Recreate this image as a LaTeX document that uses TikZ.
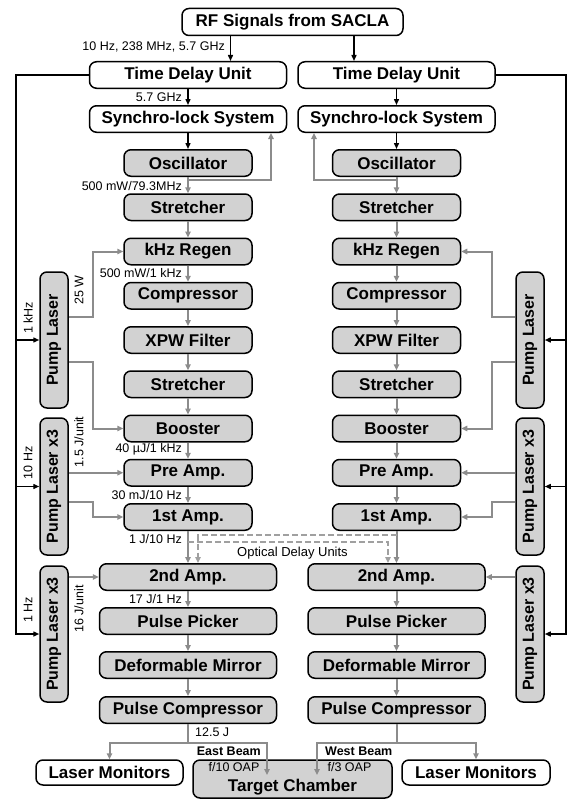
\documentclass[tikz,border=0pt]{standalone}
\usepackage{fontspec}
\setmainfont{Liberation Sans}
\usetikzlibrary{arrows.meta}

\definecolor{boxgray}{HTML}{D2D2D2}
\definecolor{beamgray}{HTML}{8C8C8C}
\definecolor{delaygray}{HTML}{A0A0A0}
\newcommand\bxfont{\fontsize{17}{19}\selectfont\bfseries}
\newcommand\pmpfont{\fontsize{16}{18}\selectfont\bfseries}
\newcommand\lblfont{\fontsize{12.5}{14}\selectfont}

\tikzset{
  ctrl/.style={draw,line width=1.5pt,rounded corners=7pt,fill=white,inner sep=0pt,
    minimum height=26.5pt,font=\bxfont},
  laser/.style={ctrl,fill=boxgray,minimum width=128pt},
  wide/.style={laser,minimum width=177pt},
  pumpbox/.style={laser,minimum width=28pt,minimum height=136pt,font=\pmpfont},
  sig/.style={line width=1.4pt,-{Triangle[length=6pt,width=5pt]}},
  beam/.style={draw=beamgray,line width=2pt,-{Triangle[length=6pt,width=5.5pt]}},
  delay/.style={beam,draw=delaygray,line width=1.5pt,dash pattern=on 6pt off 3pt},
  lbl/.style={font=\lblfont,inner sep=1pt},
}

\begin{document}
\begin{tikzpicture}[x=1pt,y=-1pt]
\path[use as bounding box] (0,0) rectangle (567,800);
\node[ctrl,minimum width=221pt,minimum height=27pt] (rf) at (292.5,22) {RF Signals from SACLA};

% two identical beam lines, mirrored
\foreach \s/\x/\px/\bx/\fb/\fx/\pa/\ca/\rd in
  {L/188/54/93/271/16/east/west/42.5, R/396.5/530/492/314/566/west/east/-42.5}{
  \node[ctrl,minimum width=197pt] (td\s) at (\x,75) {Time Delay Unit};
  \node[ctrl,minimum width=197pt] (syn\s) at (\x,119) {Synchro-lock System};
  \node[laser] (osc\s) at (\x,163) {Oscillator};
  \node[laser] (strA\s) at (\x,207.25) {Stretcher};
  \node[laser] (regen\s) at (\x,251.5) {kHz Regen};
  \node[laser] (comp\s) at (\x,295.75) {Compressor};
  \node[laser] (xpw\s) at (\x,340) {XPW Filter};
  \node[laser] (strB\s) at (\x,384.25) {Stretcher};
  \node[laser] (boost\s) at (\x,428.5) {Booster};
  \node[laser] (pre\s) at (\x,472.75) {Pre Amp.};
  \node[laser] (ampA\s) at (\x,517) {1st Amp.};
  \node[wide] (ampB\s) at (\x,577) {2nd Amp.};
  \node[wide] (pick\s) at (\x,621) {Pulse Picker};
  \node[wide] (dm\s) at (\x,665) {Deformable Mirror};
  \node[wide] (pc\s) at (\x,710) {Pulse Compressor};
  \node[pumpbox] (pmpA\s) at (\px,340) {\rotatebox{90}{Pump Laser}};
  \node[pumpbox,minimum height=137pt] (pmpB\s) at (\px,486.5) {\rotatebox{90}{Pump Laser x3}};
  \node[pumpbox] (pmpC\s) at (\px,634) {\rotatebox{90}{Pump Laser x3}};
  \coordinate (rfo\s) at ([xshift=\rd pt]td\s.north);
  \coordinate (tap\s) at (\x,180);
  \coordinate (fbx\s) at (\fb,0);
  \coordinate (bend\s) at (\bx,0);
  \coordinate (feed\s) at (\fx,0);
  % timing signals
  \draw[sig] (rfo\s |- rf.south) -- (rfo\s);
  \draw[sig] (td\s) -- (syn\s);
  \draw[sig] (syn\s) -- (osc\s);
  \draw[sig] (td\s.\ca) -| (pmpC\s.\ca -| feed\s) -- (pmpC\s.\ca);
  \draw[sig] (pmpA\s.\ca -| feed\s) -- (pmpA\s.\ca);
  \draw[sig] (pmpB\s.\ca -| feed\s) -- (pmpB\s.\ca);
  % laser beam
  \draw[beam] (osc\s) -- (strA\s);
  \draw[beam] (tap\s) -| (syn\s.south -| fbx\s);
  \draw[beam] (strA\s) -- (regen\s);
  \draw[beam] (regen\s) -- (comp\s);
  \draw[beam] (comp\s) -- (xpw\s);
  \draw[beam] (xpw\s) -- (strB\s);
  \draw[beam] (strB\s) -- (boost\s);
  \draw[beam] (boost\s) -- (pre\s);
  \draw[beam] (pre\s) -- (ampA\s);
  \draw[beam] (ampA\s) -- (ampB\s);
  \draw[beam] (ampB\s) -- (pick\s);
  \draw[beam] (pick\s) -- (dm\s);
  \draw[beam] (dm\s) -- (pc\s);
  % pump beams
  \draw[beam] ([yshift=23pt]pmpA\s.\pa) -| (regen\s.\ca -| bend\s) -- (regen\s.\ca);
  \draw[beam] ([yshift=-22pt]pmpA\s.\pa) -| (boost\s.\ca -| bend\s) -- (boost\s.\ca);
  \draw[beam] (pre\s.\ca -| pmpB\s.\pa) -- (pre\s.\ca);
  \draw[beam] ([yshift=-15.5pt]pmpB\s.\pa) -| (ampA\s.\ca -| bend\s) -- (ampA\s.\ca);
  \draw[beam] (ampB\s.\ca -| pmpC\s.\pa) -- (ampB\s.\ca);
}

% optical delay units
\coordinate (odL) at (188,542);
\coordinate (odR) at (396.5,535);
\draw[delay] (odR) -| ([xshift=10pt]ampBL.north);
\draw[delay] (odL) -| ([xshift=-8.5pt]ampBR.north);
\node[lbl,font=\fontsize{13}{15}\selectfont] (odu) at (292.5,553) {Optical Delay Units};

% output
\node[ctrl,minimum width=147pt,minimum height=25pt] (monL) at (109.5,772.5) {Laser Monitors};
\node[ctrl,minimum width=148pt,minimum height=25pt] (monR) at (476,772.5) {Laser Monitors};
\node[laser,minimum width=199pt,minimum height=38pt] (tc) at (292.5,779) {};
\node[font=\bxfont] (tcname) at (292.5,787) {Target Chamber};
\node[lbl] (oapE) at (234,767) {f/10 OAP};
\node[lbl] (oapW) at (349.5,767) {f/3 OAP};
\coordinate (splitL) at (188,743);
\coordinate (splitR) at (396.5,743);
\coordinate (eastIn) at (267,775);
\coordinate (westIn) at (317,775);
\draw[beam,-] (pcL) -- (splitL);
\draw[beam] (splitL) -| (monL.north);
\draw[beam] (splitL) -| (eastIn);
\draw[beam,-] (pcR) -- (splitR);
\draw[beam] (splitR) -| (monR.north);
\draw[beam] (splitR) -| (westIn);
\node[lbl,font=\lblfont\bfseries,anchor=east] (eb) at (262,751) {East Beam};
\node[lbl,font=\lblfont\bfseries,anchor=west] (wb) at (324,751) {West Beam};

% labels
\node[lbl,anchor=east] (fRF) at (226,47) {10 Hz, 238 MHz, 5.7 GHz};
\node[lbl,anchor=east] (fSync) at (183,97) {5.7 GHz};
\node[lbl,anchor=east] (eOsc) at (183,186) {500 mW/79.3MHz};
\node[lbl,anchor=east] (eRegen) at (183,273) {500 mW/1 kHz};
\node[lbl,anchor=east] (eBoost) at (183,449) {40 µJ/1 kHz};
\node[lbl,anchor=east] (ePre) at (183,495) {30 mJ/10 Hz};
\node[lbl,anchor=east] (eAmpA) at (183,539) {1 J/10 Hz};
\node[lbl,anchor=east] (eAmpB) at (183,599) {17 J/1 Hz};
\node[lbl,anchor=west] (eOut) at (194,732) {12.5 J};
\node[lbl,rotate=90] (wA) at (79,290) {25 W};
\node[lbl,rotate=90] (wB) at (79,442) {1.5 J/unit};
\node[lbl,rotate=90] (wC) at (79,609) {16 J/unit};
\node[lbl,rotate=90] (rA) at (28,318) {1 kHz};
\node[lbl,rotate=90] (rB) at (28,463) {10 Hz};
\node[lbl,rotate=90] (rC) at (28,610) {1 Hz};
\end{tikzpicture}
\end{document}
